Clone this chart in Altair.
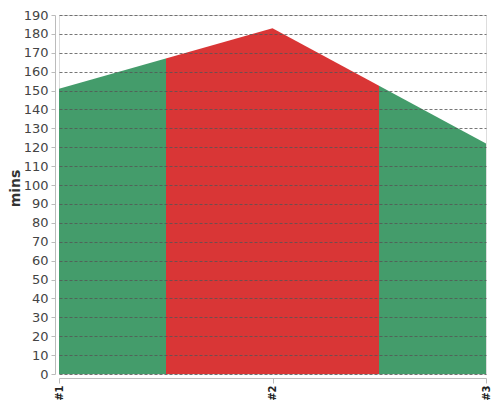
import altair as alt
import pandas as pd

labels = ["#1", "#2", "#3"]
positions = [1, 2, 3]
values = [151, 183, 122]

df = pd.DataFrame({"pos": positions, "label": labels, "mins": values})

green = "#449c6b"
red = "#d93636"

grad = alt.LinearGradient(
    gradient="linear",
    x1=0, x2=1, y1=0, y2=0,
    stops=[
        alt.GradientStop(offset=0, color=green),
        alt.GradientStop(offset=0.25, color=green),
        alt.GradientStop(offset=0.25, color=red),
        alt.GradientStop(offset=0.75, color=red),
        alt.GradientStop(offset=0.75, color=green),
        alt.GradientStop(offset=1, color=green),
    ],
)

chart = alt.Chart(df).mark_area(color=grad, opacity=1).encode(
    x=alt.X("pos:Q", scale=alt.Scale(domain=[1, 3], nice=False, zero=False),
            axis=alt.Axis(values=positions, labelExpr="'#' + datum.value",
                          labelAngle=270, labelAlign="right", labelBaseline="middle",
                          labelFontWeight="bold", labelFontSize=10, labelColor="#222",
                          grid=False, title=None, offset=4, domainColor="#bbb",
                          tickColor="#bbb", tickSize=5, labelPadding=2)),
    y=alt.Y("mins:Q", scale=alt.Scale(domain=[0, 190], nice=False),
            axis=alt.Axis(values=list(range(0, 191, 10)), title="mins",
                          titleFontSize=14, titleFontWeight="bold", titleColor="#333",
                          titleAngle=270, titleAlign="center", titleBaseline="middle",
                          titleX=-40, titleY=173,
                          labelFontSize=13, labelColor="#444", offset=4,
                          domainColor="#bbb", tickColor="#bbb", tickSize=4,
                          labelPadding=3,
                          gridColor="#555", gridDash=[3, 2], gridOpacity=0.8,
                          zindex=1)),
).properties(
    width=427, height=359,
    autosize=alt.AutoSizeParams(type="none"),
    padding={"left": 51, "top": 7, "right": 6, "bottom": 26},
).configure_view(stroke=None).configure(font="DejaVu Sans")

chart.save("out.html", embed_options={"renderer": "svg", "actions": False})
